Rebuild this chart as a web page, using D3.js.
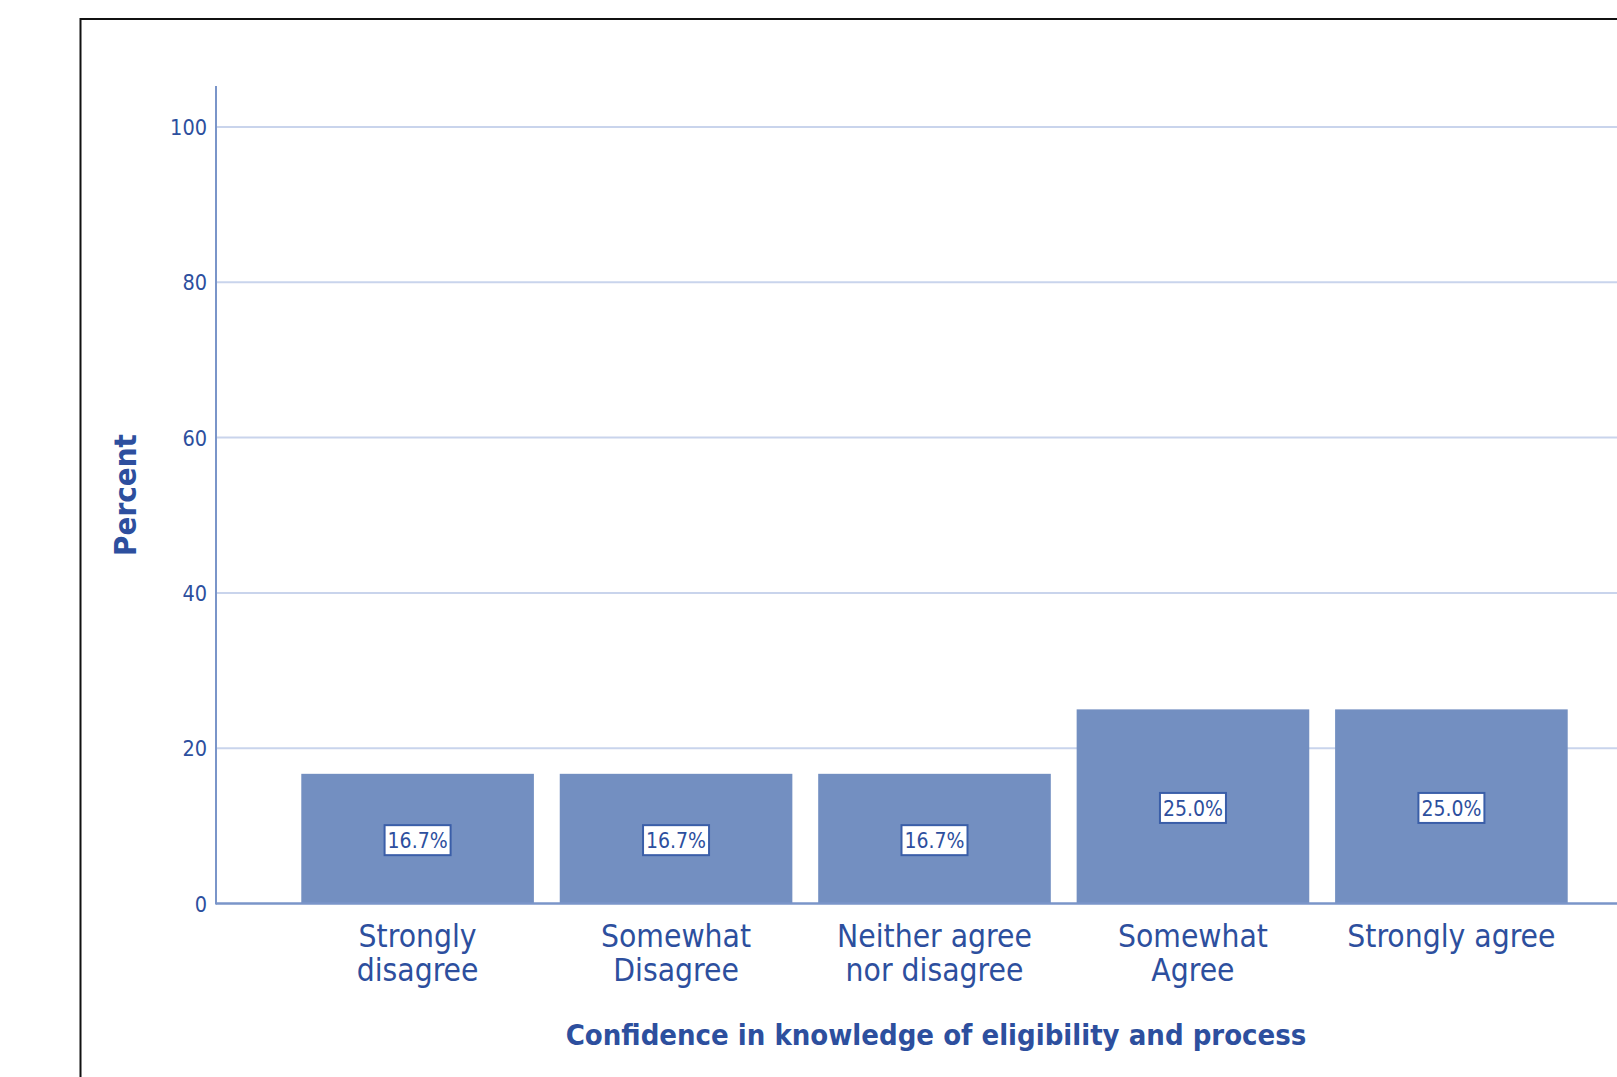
<!DOCTYPE html>
<meta charset="utf-8">
<style>
    body { margin: 0; background: #fff; }
    svg { display: block; }
    text { font-family: "DejaVu Sans Condensed", "DejaVu Sans", sans-serif; fill: #2d4f9e; }
    .tick text { font-size: 21.5px; }
    .cat { font-size: 31.5px; }
    .title { font-size: 29px; font-weight: bold; }
    .ytitle { font-size: 31px; font-weight: bold; }
    .val { font-size: 21px; }
</style>
<svg width="1617" height="1077"></svg>
<script src="https://cdn.jsdelivr.net/npm/d3@7"></script>
<script>
    // percent of respondents per answer
    var categories = ["Strongly disagree", "Somewhat Disagree", "Neither agree nor disagree", "Somewhat Agree", "Strongly agree"];
    var catLines = [["Strongly", "disagree"], ["Somewhat", "Disagree"], ["Neither agree", "nor disagree"], ["Somewhat", "Agree"], ["Strongly agree"]];
    var percents = [16.7, 16.7, 16.7, 25.0, 25.0];
    var yTicks = [0, 20, 40, 60, 80, 100];

    var svg = d3.select("svg"),
        plotLeft = 216, plotTop = 127, plotBottom = 903.5;

    // outer frame, cut off at the right and bottom like the screenshot
    svg.append("rect")
        .attr("x", 80.5).attr("y", 19)
        .attr("width", 1700).attr("height", 1200)
        .attr("fill", "none").attr("stroke", "#111").attr("stroke-width", 2);

    var x = d3.scaleBand().domain(categories).range([plotLeft, 1653]).paddingInner(0.1).paddingOuter(0.33);
    var y = d3.scaleLinear().domain([0, 100]).range([plotBottom, plotTop]);

    // gridlines
    svg.append("g").selectAll("line")
        .data(yTicks.filter(function (d) { return d > 0; }))
        .enter().append("line")
        .attr("x1", plotLeft).attr("x2", 1617)
        .attr("y1", function (d) { return y(d); })
        .attr("y2", function (d) { return y(d); })
        .attr("stroke", "#c9d4ec").attr("stroke-width", 2);

    // bars
    svg.append("g").selectAll("rect")
        .data(percents)
        .enter().append("rect")
        .attr("x", function (d, i) { return x(categories[i]); })
        .attr("y", function (d) { return y(d); })
        .attr("width", x.bandwidth())
        .attr("height", function (d) { return y(0) - y(d); })
        .attr("fill", "#738fc1");

    // baseline
    svg.append("line")
        .attr("x1", plotLeft).attr("x2", 1617)
        .attr("y1", y(0)).attr("y2", y(0))
        .attr("stroke", "#7a95c9").attr("stroke-width", 2.5);

    // y axis
    var yAxis = d3.axisLeft(y).tickValues(yTicks).tickSize(0).tickPadding(9);
    var gy = svg.append("g").attr("class", "axis")
        .attr("transform", "translate(" + plotLeft + ",0)")
        .call(yAxis);
    gy.select(".domain").remove();
    gy.selectAll(".tick text").attr("dy", "0.35em").attr("fill", "#2d4f9e");
    svg.append("line")
        .attr("x1", plotLeft).attr("x2", plotLeft)
        .attr("y1", 86).attr("y2", y(0) + 1)
        .attr("stroke", "#7a95c9").attr("stroke-width", 2);

    // value labels
    var vals = svg.append("g").selectAll("g")
        .data(percents)
        .enter().append("g")
        .attr("transform", function (d, i) {
            return "translate(" + (x(categories[i]) + x.bandwidth() / 2) + "," + (y(d / 2) + 1.5) + ")";
        });
    vals.append("rect")
        .attr("x", -33).attr("y", -15).attr("width", 66).attr("height", 30)
        .attr("fill", "#fff").attr("stroke", "#3a5ea8").attr("stroke-width", 2);
    vals.append("text")
        .attr("class", "val")
        .attr("text-anchor", "middle")
        .attr("dy", "0.36em")
        .text(function (d) { return d.toFixed(1) + "%"; });

    // category labels
    var cats = svg.append("g").selectAll("text")
        .data(categories)
        .enter().append("text")
        .attr("class", "cat")
        .attr("text-anchor", "middle")
        .attr("x", function (d) { return x(d) + x.bandwidth() / 2; })
        .attr("y", 947);
    cats.selectAll("tspan")
        .data(function (d, i) { return catLines[i]; })
        .enter().append("tspan")
        .attr("x", function () { var c = d3.select(this.parentNode).datum(); return x(c) + x.bandwidth() / 2; })
        .attr("dy", function (d, i) { return i ? 34 : 0; })
        .text(function (d) { return d; });

    // axis titles
    svg.append("text")
        .attr("class", "title")
        .attr("text-anchor", "middle")
        .attr("x", 936).attr("y", 1045)
        .text("Confidence in knowledge of eligibility and process");
    svg.append("text")
        .attr("class", "ytitle")
        .attr("text-anchor", "middle")
        .attr("transform", "translate(136,495) rotate(-90)")
        .text("Percent");
</script>
